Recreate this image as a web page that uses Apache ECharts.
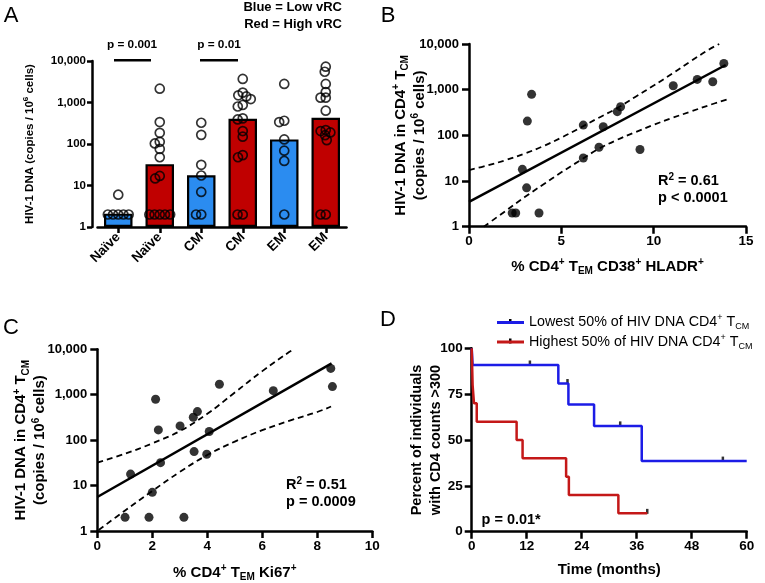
<!DOCTYPE html>
<html><head><meta charset="utf-8">
<script src="https://cdn.jsdelivr.net/npm/echarts@6/dist/echarts.min.js"></script>
<style>html,body{margin:0;padding:0;background:#fff}#c{width:765px;height:583px}</style>
</head><body><div id="c"></div>
<script>
// ---------- Panel A data ----------
const catsA = ['Naïve', 'Naïve', 'CM', 'CM', 'EM', 'EM'];
const barsA = [2.1, 32.7, 17.7, 405, 129, 430];
const dotsNaiveLow = [6, 2, 2, 2, 2, 2];
const dotsNaiveHigh = [2150, 338, 186, 113, 103, 76, 48, 17, 14.8, 2, 2, 2, 2, 2];
const dotsCMLow = [325, 166, 31.5, 17.4, 7, 2, 2];
const dotsCMHigh = [3700, 1730, 1490, 1400, 1210, 870, 800, 415, 390, 205, 150, 54, 48, 2, 2];
const dotsEMLow = [2800, 363, 338, 129, 69, 39, 2];
const dotsEMHigh = [7300, 5500, 2800, 1780, 1310, 1310, 635, 217, 205, 190, 163, 124, 2, 2];
const logTicks = ['1', '10', '100', '1,000', '10,000'];

// ---------- Panel B data ----------
const bX = [2.34, 2.53, 3.79, 3.16, 3.39, 2.89, 3.12, 6.19, 6.19, 7.27, 7.04, 8.03, 8.21, 9.26, 11.06, 12.36, 13.2, 13.8];
const bY = [2, 2, 2, 205, 790, 18, 7.1, 168, 32, 154, 55, 330, 424, 49, 1220, 1680, 1490, 3760];
const bFitX = [0, 13.9];
const bFitY = [3.5, 3470];
const bUpX = [0, 1, 2, 3, 4, 5, 6, 7, 8, 9, 10, 11, 12, 13, 13.55];
const bUpY = [17.4, 21.9, 28.8, 39.8, 57.5, 89, 145, 240, 389, 692, 1230, 2240, 4170, 7590, 10000];
const bLoX = [0.8, 2, 3, 4, 5, 6, 7, 8, 9, 10, 11, 12, 13, 14];
const bLoY = [1, 2.24, 4.4, 8.3, 15.5, 28, 50, 79, 117, 170, 240, 331, 457, 617];

// ---------- Panel C data ----------
const cX = [1.01, 1.88, 3.15, 1.21, 2.0, 2.12, 2.22, 2.30, 3.01, 3.52, 3.49, 3.64, 3.98, 4.07, 4.44, 6.40, 8.49, 8.55];
const cY = [2, 2, 2, 17.9, 7.1, 795, 168, 32, 206, 56, 320, 425, 49, 155, 1700, 1230, 3800, 1510];
const cFitX = [0, 8.52];
const cFitY = [5.6, 4900];
const cUpX = [0, 1, 2, 3, 4, 5, 6, 7, 7.15];
const cUpY = [32, 50, 85, 158, 380, 1120, 3310, 8900, 10000];
const cLoX = [0.05, 1, 2, 3, 4, 5, 6, 7, 8, 8.5];
const cLoY = [1.05, 2.8, 7.6, 20, 47, 93, 166, 269, 417, 550];

// ---------- Panel D data ----------
const kmLowT = [0, 0.2, 18.9, 21.1, 26.7, 37.1, 60];
const kmLowS = [100, 90.9, 80.8, 69.3, 57.7, 38.5, 38.5];
const kmHighT = [0, 0.2, 0.5, 1.1, 9.8, 11.1, 20.6, 21.2, 32.0, 38.3];
const kmHighS = [100, 80, 70, 60, 50, 40, 30, 20, 10, 10];
const censLowT = [12.7, 20.9, 32.4, 54.8];
const censLowS = [90.9, 80.8, 57.7, 38.5];
const censHighT = [38.3];
const censHighS = [10];
const seriesNameLow = 'Lowest 50% of HIV DNA CD4+ TCM';
const seriesNameHigh = 'Highest 50% of HIV DNA CD4+ TCM';

// ---------- styling ----------
const FONT = "'Liberation Sans', Arial, Helvetica, sans-serif";
const BLUE_A = '#2b8cf0', RED_A = '#c00000';
const BLUE_D = '#1c1ce6', RED_D = '#c41818';

function rich(fs, lh) {
  const s = Math.round(fs * 0.66);
  return {
    b: {fontFamily: FONT, fontWeight: 'bold', fontSize: fs, lineHeight: lh, color: '#000'},
    n: {fontFamily: FONT, fontWeight: 'normal', fontSize: fs, lineHeight: lh, color: '#000'},
    sup: {fontFamily: FONT, fontWeight: 'bold', fontSize: s, lineHeight: s + 1, verticalAlign: 'top', color: '#000'},
    nsup: {fontFamily: FONT, fontWeight: 'normal', fontSize: s, lineHeight: s + 1, verticalAlign: 'top', color: '#000'},
    sub: {fontFamily: FONT, fontWeight: 'bold', fontSize: s, lineHeight: s + 3, verticalAlign: 'bottom', color: '#000'},
    nsub: {fontFamily: FONT, fontWeight: 'normal', fontSize: s, lineHeight: s + 3, verticalAlign: 'bottom', color: '#000'},
    bl: {fontFamily: FONT, fontWeight: 'bold', fontSize: fs, lineHeight: lh, color: BLUE_A},
    rd: {fontFamily: FONT, fontWeight: 'bold', fontSize: fs, lineHeight: lh, color: RED_A}
  };
}
function axisBase(fs, tickLen, margin) {
  return {
    nameMoveOverlap: false,
    axisLine: {show: true, onZero: false, lineStyle: {color: '#000', width: 2.5}},
    axisTick: {show: true, inside: false, length: tickLen, lineStyle: {color: '#000', width: 2.5}},
    axisLabel: {color: '#000', fontFamily: FONT, fontWeight: 'bold', fontSize: fs, margin: margin},
    splitLine: {show: false},
    minorTick: {show: false},
    minorSplitLine: {show: false}
  };
}
const logFmt = v => logTicks[Math.round(Math.log10(v))] || '';
function logAxis(gridIndex, fs, tickLen, margin, extra) {
  const a = axisBase(fs, tickLen, margin);
  a.axisLabel.formatter = logFmt;
  return Object.assign({type: 'log', logBase: 10, min: 1, max: 10000, gridIndex}, a, extra || {});
}
const zip = (xs, ys) => xs.map((x, i) => [x, ys[i]]);

const dotsA = [dotsNaiveLow, dotsNaiveHigh, dotsCMLow, dotsCMHigh, dotsEMLow, dotsEMHigh];
const scatterA = [];
dotsA.forEach((arr, i) => arr.forEach(v => scatterA.push([i, v])));

const dashed = {type: [6, 4], width: 1.8, color: '#000'};

const option = {
  backgroundColor: '#fff',
  animation: false,
  textStyle: {fontFamily: FONT},
  grid: [
    {left: 97.5, top: 61, width: 249, height: 166},
    {left: 469, top: 44, width: 277, height: 182.7},
    {left: 97.3, top: 349.3, width: 275, height: 182},
    {left: 471.7, top: 348.3, width: 275, height: 183.4}
  ],
  xAxis: [
    Object.assign({type: 'category', gridIndex: 0, data: catsA, boundaryGap: true,
      jitter: 30, jitterOverlap: false, jitterMargin: -3.8}, axisBase(12, 6, 8),
      {axisTick: {show: true, alignWithLabel: true, length: 6, lineStyle: {color: '#000', width: 2.5}},
       axisLabel: {color: '#000', fontFamily: FONT, fontWeight: 'bold', fontSize: 13.5, rotate: 45, margin: 8, interval: 0}}),
    Object.assign({type: 'value', gridIndex: 1, min: 0, max: 15, interval: 5}, axisBase(13.5, 7, 8),
      {name: '{b|% CD4}{sup|+}{b| T}{sub|EM}{b| CD38}{sup|+}{b| HLADR}{sup|+}', nameLocation: 'middle', nameGap: 31,
       nameTextStyle: {rich: rich(15, 19)}}),
    Object.assign({type: 'value', gridIndex: 2, min: 0, max: 10, interval: 2}, axisBase(13.5, 7, 8),
      {name: '{b|% CD4}{sup|+}{b| T}{sub|EM}{b| Ki67}{sup|+}', nameLocation: 'middle', nameGap: 32,
       nameTextStyle: {rich: rich(15, 19)}}),
    Object.assign({type: 'value', gridIndex: 3, min: 0, max: 60, interval: 12}, axisBase(13.5, 7, 8),
      {name: '{b|Time (months)}', nameLocation: 'middle', nameGap: 29, nameTextStyle: {rich: rich(15, 19)}})
  ],
  yAxis: [
    logAxis(0, 11.5, 5, 6, {offset: 5.5, name: '{b|HIV-1 DNA (copies / 10}{sup|6}{b| cells)}', nameLocation: 'middle',
      nameRotate: 90, nameGap: 55, nameTextStyle: {rich: rich(11.5, 15)}}),
    logAxis(1, 13, 7, 10, {name: '{b|HIV-1 DNA in CD4}{sup|+}{b| T}{sub|CM}\n{b|(copies / 10}{sup|6}{b| cells)}',
      nameLocation: 'middle', nameRotate: 90, nameGap: 40, nameTextStyle: {rich: rich(15, 19)}}),
    logAxis(2, 13, 7, 10, {name: '{b|HIV-1 DNA in CD4}{sup|+}{b| T}{sub|CM}\n{b|(copies / 10}{sup|6}{b| cells)}',
      nameLocation: 'middle', nameRotate: 90, nameGap: 47.5, nameTextStyle: {rich: rich(15, 19)}}),
    Object.assign({type: 'value', gridIndex: 3, min: 0, max: 100, interval: 25}, axisBase(13.5, 7, 9),
      {name: '{b|Percent of individuals}\n{b|with CD4 counts >300}', nameLocation: 'middle', nameRotate: 90, nameGap: 26.5,
       nameTextStyle: {rich: rich(14.5, 19)}})
  ],
  legend: {
    orient: 'vertical', left: 497, top: 313.5, itemWidth: 27, itemHeight: 3, itemGap: 1.5, padding: 0,
    icon: 'rect', data: [seriesNameLow, seriesNameHigh],
    formatter: name => name === seriesNameLow
      ? '{n|Lowest 50% of HIV DNA CD4}{nsup|+}{n| T}{nsub|CM}'
      : '{n|Highest 50% of HIV DNA CD4}{nsup|+}{n| T}{nsub|CM}',
    textStyle: {rich: rich(14.3, 18)}
  },
  series: [
    // Panel A
    {type: 'bar', xAxisIndex: 0, yAxisIndex: 0, barWidth: 28.5,
      data: barsA.map((v, i) => ({value: v, itemStyle: {color: i % 2 ? RED_A : BLUE_A}})),
      itemStyle: {borderColor: '#000', borderWidth: 2.2}},
    {type: 'scatter', xAxisIndex: 0, yAxisIndex: 0, data: scatterA, symbol: 'circle', symbolSize: 9,
      itemStyle: {color: 'rgba(0,0,0,0)', borderColor: '#000', borderWidth: 1.7}},
    // Panel B
    {type: 'scatter', xAxisIndex: 1, yAxisIndex: 1, data: zip(bX, bY), symbolSize: 9, itemStyle: {color: '#000'}},
    {type: 'line', xAxisIndex: 1, yAxisIndex: 1, data: zip(bFitX, bFitY), showSymbol: false, lineStyle: {color: '#000', width: 2.5}},
    {type: 'line', xAxisIndex: 1, yAxisIndex: 1, data: zip(bUpX, bUpY), smooth: 0.4, showSymbol: false, lineStyle: dashed},
    {type: 'line', xAxisIndex: 1, yAxisIndex: 1, data: zip(bLoX, bLoY), smooth: 0.4, showSymbol: false, lineStyle: dashed},
    // Panel C
    {type: 'scatter', xAxisIndex: 2, yAxisIndex: 2, data: zip(cX, cY), symbolSize: 9, itemStyle: {color: '#000'}},
    {type: 'line', xAxisIndex: 2, yAxisIndex: 2, data: zip(cFitX, cFitY), showSymbol: false, lineStyle: {color: '#000', width: 2.5}},
    {type: 'line', xAxisIndex: 2, yAxisIndex: 2, data: zip(cUpX, cUpY), smooth: 0.4, showSymbol: false, lineStyle: dashed},
    {type: 'line', xAxisIndex: 2, yAxisIndex: 2, data: zip(cLoX, cLoY), smooth: 0.4, showSymbol: false, lineStyle: dashed},
    // Panel D
    {name: seriesNameLow, type: 'line', xAxisIndex: 3, yAxisIndex: 3, step: 'end', data: zip(kmLowT, kmLowS),
      showSymbol: false, color: BLUE_D, lineStyle: {color: BLUE_D, width: 2.5}},
    {name: seriesNameHigh, type: 'line', xAxisIndex: 3, yAxisIndex: 3, step: 'end', data: zip(kmHighT, kmHighS),
      showSymbol: false, color: RED_D, lineStyle: {color: RED_D, width: 2.5}},
    {type: 'scatter', xAxisIndex: 3, yAxisIndex: 3, data: zip(censLowT, censLowS).concat(zip(censHighT, censHighS)),
      symbol: 'rect', symbolSize: [2.5, 5], symbolOffset: [0, -2], itemStyle: {color: '#000'}}
  ],
  graphic: [
    {type: 'text', x: 11, y: 16, style: {text: 'A', font: '22px ' + FONT, fill: '#000', align: 'center', verticalAlign: 'middle', textAlign: 'center', textVerticalAlign: 'middle'}},
    {type: 'text', x: 388, y: 16, style: {text: 'B', font: '22px ' + FONT, fill: '#000', align: 'center', verticalAlign: 'middle', textAlign: 'center', textVerticalAlign: 'middle'}},
    {type: 'text', x: 11, y: 327.5, style: {text: 'C', font: '22px ' + FONT, fill: '#000', align: 'center', verticalAlign: 'middle', textAlign: 'center', textVerticalAlign: 'middle'}},
    {type: 'text', x: 388, y: 319.5, style: {text: 'D', font: '22px ' + FONT, fill: '#000', align: 'center', verticalAlign: 'middle', textAlign: 'center', textVerticalAlign: 'middle'}},
    {type: 'text', x: 342, y: 7, style: {text: '{bl|Blue}{b| = Low vRC}', rich: rich(13, 16), align: 'right', verticalAlign: 'middle', textAlign: 'right', textVerticalAlign: 'middle'}},
    {type: 'text', x: 342, y: 24, style: {text: '{rd|Red}{b| = High vRC}', rich: rich(13, 16), align: 'right', verticalAlign: 'middle', textAlign: 'right', textVerticalAlign: 'middle'}},
    {type: 'text', x: 132, y: 45, style: {text: '{b|p = 0.001}', rich: rich(11.8, 15), align: 'center', verticalAlign: 'middle', textAlign: 'center', textVerticalAlign: 'middle'}},
    {type: 'text', x: 219, y: 45, style: {text: '{b|p = 0.01}', rich: rich(11.8, 15), align: 'center', verticalAlign: 'middle', textAlign: 'center', textVerticalAlign: 'middle'}},
    {type: 'line', shape: {x1: 114, y1: 60.3, x2: 151, y2: 60.3}, style: {stroke: '#000', lineWidth: 2.5}},
    {type: 'line', shape: {x1: 200, y1: 60.3, x2: 238, y2: 60.3}, style: {stroke: '#000', lineWidth: 2.5}},
    {type: 'text', x: 658, y: 189, style: {text: '{b|R}{sup|2}{b| = 0.61}\n{b|p < 0.0001}', rich: rich(14.5, 17), align: 'left', verticalAlign: 'middle', textAlign: 'left', textVerticalAlign: 'middle'}},
    {type: 'text', x: 286, y: 493.5, style: {text: '{b|R}{sup|2}{b| = 0.51}\n{b|p = 0.0009}', rich: rich(14.5, 17), align: 'left', verticalAlign: 'middle', textAlign: 'left', textVerticalAlign: 'middle'}},
    {type: 'text', x: 481.5, y: 520, style: {text: '{b|p = 0.01*}', rich: rich(14.5, 17), align: 'left', verticalAlign: 'middle', textAlign: 'left', textVerticalAlign: 'middle'}},
    {type: 'rect', shape: {x: 509, y: 319, width: 2.5, height: 5}, style: {fill: '#000'}},
    {type: 'rect', shape: {x: 509, y: 338.5, width: 2.5, height: 5}, style: {fill: '#000'}}
  ]
};
const chart = echarts.init(document.getElementById('c'), null, {renderer: 'canvas'});
chart.setOption(option);
</script></body></html>
